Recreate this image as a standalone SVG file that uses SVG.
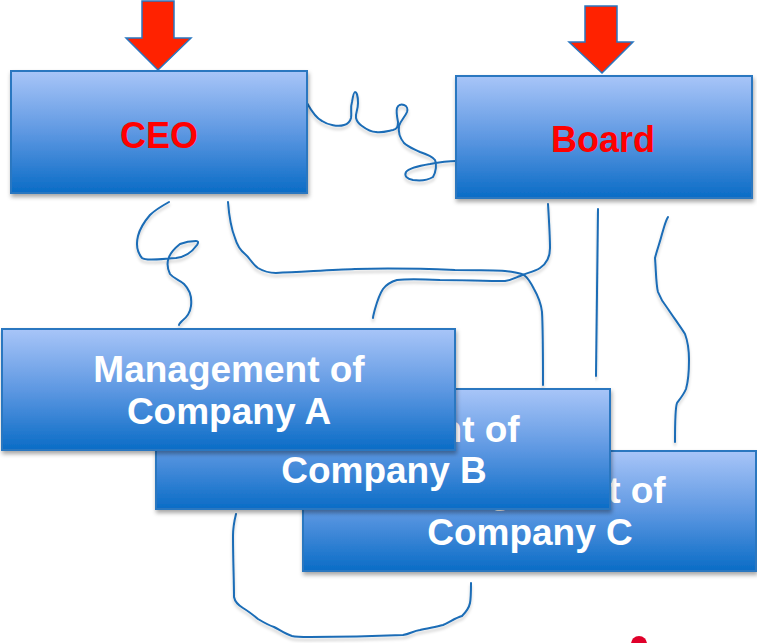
<svg xmlns="http://www.w3.org/2000/svg" width="757" height="643" viewBox="0 0 757 643">
  <defs>
    <linearGradient id="boxFill" x1="0" y1="0" x2="0" y2="1">
      <stop offset="0" stop-color="#a8c5f8"/>
      <stop offset="0.5" stop-color="#5e98e2"/>
      <stop offset="1" stop-color="#0a6cc6"/>
    </linearGradient>
    <filter id="boxShadow" x="-5%" y="-10%" width="110%" height="125%">
      <feDropShadow dx="1" dy="3" stdDeviation="2" flood-color="#000" flood-opacity="0.35"/>
    </filter>
    <filter id="lineShadow" x="-10%" y="-10%" width="120%" height="130%">
      <feDropShadow dx="0" dy="3" stdDeviation="1.5" flood-color="#000" flood-opacity="0.2"/>
    </filter>
  </defs>
  <style>
    .box { fill: url(#boxFill); stroke: #2a77c0; stroke-width: 2; filter: url(#boxShadow); }
    .arrow { fill: #ff2200; stroke: #2a77c0; stroke-width: 1.5; stroke-linejoin: miter; }
    .title { font-family: "Liberation Sans", Arial, sans-serif; font-weight: bold; font-size: 36px; fill: #ff0000; text-anchor: middle; }
    .label { font-family: "Liberation Sans", Arial, sans-serif; font-weight: bold; font-size: 37px; fill: #ffffff; text-anchor: middle; }
    .wire { fill: none; stroke: #1a6cb6; stroke-width: 2; stroke-linecap: round; stroke-linejoin: round; filter: url(#lineShadow); }
  </style>

  <rect width="757" height="643" fill="#ffffff"/>

  <!-- hand-drawn links -->
  <g id="connectors">
    <!-- CEO to Board squiggle -->
    <path class="wire" d="M307,103 C312,112 316,118 322,121 C328,125 338,127 344,125 C348,124 350,122 351,118 C352,112 350,108 352,102 C353,96 354,92 355,92 C357,92 358,98 358,103 C358,110 355,114 356,118 C357,122 359,124 362,126 C366,129 370,132 376,132 C382,133 388,131 393,130 C397,129 398,127 398,122 C397,117 396,112 397,108 C398,105 401,104 404,105 C407,106 408,109 407,112 C405,117 401,120 399,126 C398,132 400,138 404,143 C408,147 414,149 420,152 C426,154 432,156 435,160 C437,164 436,172 433,177 C428,180 420,181 413,180 C407,179 404,176 406,172 C409,168 418,166 430,164 C440,162 450,161 457,161"/>
    <!-- CEO to Company A -->
    <path class="wire" d="M169,202 C160,207 154,211 150,215 C144,222 140,228 138,236 C136,244 137,252 142,258 C146,261 160,259 176,258 C186,257 192,252 197,245 C199,242 198,241 196,241 C190,241 185,242 180,244 C175,248 171,252 169,257 C167,262 167,268 170,274 C174,279 180,280 184,284 C190,290 192,298 191,306 C190,314 186,318 182,321 C180,323 179,324 179,325"/>
    <!-- CEO to Company B -->
    <path class="wire" d="M228,202 C229,215 231,228 235,238 C237,245 240,250 245,254 C250,258 252,264 258,268 C263,271 268,273 276,273 C300,272 330,270 355,269 C390,268 430,269 455,270 C475,270 495,270 505,271 C515,272 520,273 524,275 C528,278 531,283 534,289 C538,296 541,303 542,312 C543,330 543,360 543,385"/>
    <!-- Board to Company A -->
    <path class="wire" d="M548,204 C549,220 550,238 550,248 C550,258 546,264 540,268 C534,272 526,273 520,276 C515,278 512,280 505,281 C485,281 460,280 440,280 C420,279 405,279 397,280 C390,282 386,285 383,289 C379,295 377,302 375,309 C374,313 373,316 373,318"/>
    <!-- Board to Company B (straight) -->
    <path class="wire" d="M598,209 L596,376"/>
    <!-- Board to Company C -->
    <path class="wire" d="M668,217 C665,222 664,228 662,234 C660,242 657,250 655,258 C656,270 656,285 658,292 C661,300 664,304 668,309 C674,318 680,326 685,334 C688,342 689,350 689,360 C689,372 688,382 686,389 C684,394 680,399 677,403 C675,408 675,420 675,442"/>
    <!-- Company B to Company C (below) -->
    <path class="wire" d="M236,514 C234,522 233,528 233,536 C233,560 234,580 234,597 C235,602 238,605 243,608 C248,611 252,614 258,619 C263,622 268,625 274,627 C280,630 285,634 292,636 C296,637 300,637 310,637 C340,637 380,636 403,635 C410,634 413,631 420,630 C428,628 436,627 443,625 C450,622 455,618 462,616 C466,612 469,608 470,603 C471,598 471,590 471,583"/>
  </g>

  <!-- CEO -->
  <g id="node-ceo">
    <rect class="box" x="11" y="71" width="296" height="122"/>
    <text class="title" x="159" y="148">CEO</text>
    <polygon class="arrow" points="142,1 174,1 174,38 191,38 158,70 126,38 142,38"/>
  </g>

  <!-- Board -->
  <g id="node-board">
    <rect class="box" x="456" y="76" width="296" height="122"/>
    <text class="title" x="603" y="152">Board</text>
    <polygon class="arrow" points="585,6 617,6 617,42 633,42 602,73 569,42 585,42"/>
  </g>

  <!-- Company C (back) -->
  <g id="node-company-c">
    <rect class="box" x="303" y="451" width="453" height="120"/>
    <text class="label" x="530" y="503">Management of</text>
    <text class="label" x="530" y="545">Company C</text>
  </g>

  <!-- Company B (middle) -->
  <g id="node-company-b">
    <rect class="box" x="156" y="389" width="454" height="120"/>
    <text class="label" x="384" y="442">Management of</text>
    <text class="label" x="384" y="483">Company B</text>
  </g>

  <!-- Company A (front) -->
  <g id="node-company-a">
    <rect class="box" x="2" y="329" width="453" height="121"/>
    <text class="label" x="229" y="382">Management of</text>
    <text class="label" x="229" y="424">Company A</text>
  </g>

  <!-- slide marker at bottom edge -->
  <circle cx="639" cy="644" r="8" fill="#e0002a"/>
</svg>
